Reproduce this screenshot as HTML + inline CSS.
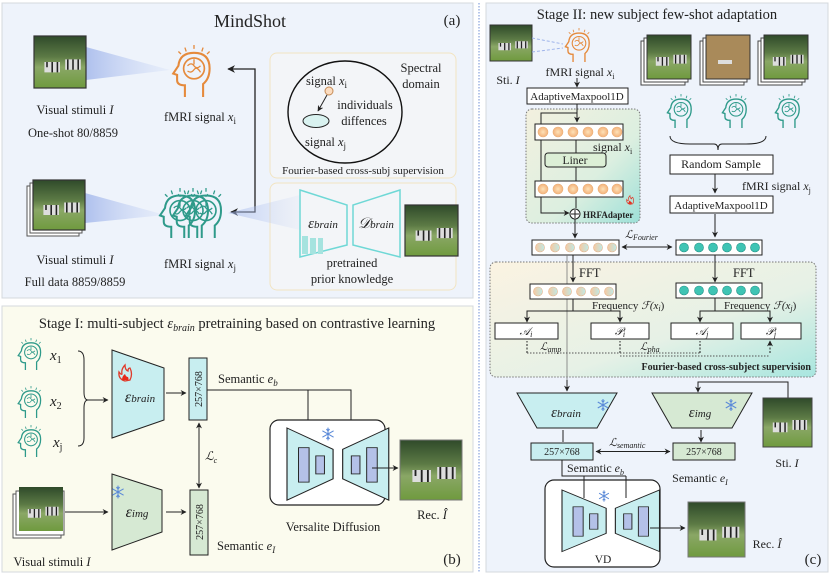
<!DOCTYPE html>
<html><head><meta charset="utf-8"><style>
html,body{margin:0;padding:0;background:#fff}
svg{display:block}
text{font-family:"Liberation Serif",serif;fill:#222}
.it{font-style:italic}
</style></head><body>
<svg width="830" height="574" viewBox="0 0 830 574" xmlns="http://www.w3.org/2000/svg">
<defs>
<linearGradient id="beam" x1="0" x2="1"><stop offset="0" stop-color="#9fb4ea" stop-opacity=".8"/><stop offset="1" stop-color="#c9d6f5" stop-opacity=".2"/></linearGradient>
<linearGradient id="hrf" x1="0" y1="0" x2="1" y2="1"><stop offset="0" stop-color="#f3f0df"/><stop offset=".6" stop-color="#dcefe0"/><stop offset="1" stop-color="#9de0d8"/></linearGradient>
<linearGradient id="four" x1="0" y1="0" x2="1" y2="1"><stop offset="0" stop-color="#fbf3e2"/><stop offset=".6" stop-color="#e6f1e6"/><stop offset="1" stop-color="#a8e6df"/></linearGradient>
<radialGradient id="od"><stop offset="0" stop-color="#fde2b8"/><stop offset="1" stop-color="#f4b27a"/></radialGradient>
<linearGradient id="md" x1="0" x2="1"><stop offset="0" stop-color="#f7c9a0"/><stop offset="1" stop-color="#bfe9e6"/></linearGradient>
<linearGradient id="img" x1="0" y1="0" x2="0" y2="1"><stop offset="0" stop-color="#2f4a2a"/><stop offset=".4" stop-color="#5c7a45"/><stop offset=".6" stop-color="#8aa766"/><stop offset="1" stop-color="#6f9a3e"/></linearGradient>
<marker id="ar" viewBox="0 0 10 10" refX="9" refY="5" markerWidth="6" markerHeight="6" orient="auto-start-reverse"><path d="M0 0L10 5L0 10L3 5z" fill="#222"/></marker>
<g id="head"><path d="M13 40V31Q7 31 7 27V23L4 22L8 16Q9 6 20 6Q32 6 32 18Q32 26 27 30V40" fill="none" stroke-width="1.6"/><circle cx="20" cy="18" r="8" fill="none" stroke-width="1.3"/><path d="M15 16q3-3 5 0t5 0M15 20q3 2 5-1t5 2M20 11v4" fill="none" stroke-width="1"/><path d="M20 0v3M13 2l1 3M27 2l-1 3M8 5l2 2M32 5l-2 2" fill="none" stroke-width="1"/></g>
<g id="zeb"><rect width="10" height="10" fill="url(#img)"/><path d="M2 5h3v2h-3zM6 4.5h3v2h-3z" fill="#ddd"/><path d="M2.5 5v1M3.5 5v2M4.5 5v2M6.5 4.5v2M7.5 4.5v2M8.5 4.5v2" stroke="#222" stroke-width=".3"/></g>
<g id="snow" stroke="#5b8ad8" stroke-width="1.4" fill="none"><path d="M0 -8V8M-7 -4L7 4M-7 4L7 -4"/><path d="M-2 -6L0 -4L2 -6M-2 6L0 4L2 6"/></g>
<g id="fire"><path d="M0 8Q-7 6 -6 -1Q-4 2 -3 1Q-4 -4 0 -8Q0 -3 3 -2Q3 -5 5 -5Q8 1 5 7Z" fill="none" stroke="#e03a2a" stroke-width="1.3"/><path d="M-3 7Q-3 3 0 1Q1 4 3 4Q4 6 3 7Z" fill="#e82a1a"/></g>
<g id="hg"><path d="M0 0L48 26V62L0 88Z M58 26L106 0V88L58 62Z" fill="#c8eef0" stroke="#222" stroke-width="1.2"/><rect x="12" y="24" width="11" height="42" fill="#b4c1e8" stroke="#222"/><rect x="30" y="34" width="9" height="22" fill="#b4c1e8" stroke="#222"/><rect x="67" y="34" width="9" height="22" fill="#b4c1e8" stroke="#222"/><rect x="83" y="24" width="11" height="42" fill="#b4c1e8" stroke="#222"/></g>
</defs>

<!-- Panel a -->
<rect x="2" y="3" width="471" height="295" fill="#eef3fb" stroke="#d4d8de"/>
<text x="250" y="27" font-size="18" text-anchor="middle">MindShot</text>
<text x="452" y="25" font-size="15" text-anchor="middle">(a)</text>
<polygon points="86,47 170,70 86,80" fill="url(#beam)"/>
<use href="#zeb" transform="translate(34,36) scale(5.2)"/>
<rect x="34" y="36" width="52" height="52" fill="none" stroke="#333" stroke-width="1.2"/>
<use href="#head" stroke="#e58a3c" transform="translate(168,45) scale(1.3)"/>
<text x="75" y="114" font-size="12.5" text-anchor="middle">Visual stimuli <tspan class="it">I</tspan></text>
<text x="73" y="137" font-size="12.5" text-anchor="middle">One-shot 80/8859</text>
<text x="200" y="121" font-size="12.5" text-anchor="middle">fMRI signal <tspan class="it">x</tspan><tspan font-size="9" dy="3">i</tspan></text>
<polygon points="85,193 165,215 85,223" fill="url(#beam)"/>
<rect x="27" y="186" width="52" height="50" fill="#fff" stroke="#555"/>
<rect x="30" y="183" width="52" height="50" fill="#fff" stroke="#555"/>
<use href="#zeb" transform="translate(33,180) scale(5.2,5)"/>
<rect x="33" y="180" width="52" height="50" fill="none" stroke="#333" stroke-width="1.2"/>
<g stroke="#2e9a8a"><use href="#head" transform="translate(155,188) scale(1.25)"/><use href="#head" transform="translate(168,188) scale(1.25)"/><use href="#head" transform="translate(181,188) scale(1.25)"/></g>
<text x="75" y="264" font-size="12.5" text-anchor="middle">Visual stimuli <tspan class="it">I</tspan></text>
<text x="75" y="286" font-size="12.5" text-anchor="middle">Full data 8859/8859</text>
<text x="200" y="268" font-size="12.5" text-anchor="middle">fMRI signal <tspan class="it">x</tspan><tspan font-size="9" dy="3">j</tspan></text>
<path d="M231 212H255V69H228" fill="none" stroke="#222" stroke-width="1.3" marker-start="url(#ar)" marker-end="url(#ar)"/>
<rect x="270" y="53" width="186" height="125" rx="7" fill="#f3f5f8" stroke="#f2e4c2"/>
<ellipse cx="345" cy="112" rx="57" ry="51" fill="none" stroke="#111" stroke-width="1.4"/>
<text x="421" y="72" font-size="12.5" text-anchor="middle">Spectral</text>
<text x="421" y="88" font-size="12.5" text-anchor="middle">domain</text>
<text x="306" y="85" font-size="12.5">signal <tspan class="it">x</tspan><tspan font-size="9" dy="3">i</tspan></text>
<circle cx="329" cy="91" r="4" fill="#fbdcc0" stroke="#c58a55"/>
<path d="M327 95L318 111" stroke="#222" marker-end="url(#ar)"/>
<ellipse cx="316" cy="121" rx="13" ry="6.5" fill="#d9f2f0" stroke="#222"/>
<text x="365" y="109" font-size="12.5" text-anchor="middle">individuals</text>
<text x="364" y="125" font-size="12.5" text-anchor="middle">diffences</text>
<text x="305" y="146" font-size="12.5">signal <tspan class="it">x</tspan><tspan font-size="9" dy="3">j</tspan></text>
<text x="363" y="174" font-size="11" text-anchor="middle">Fourier-based cross-subj supervision</text>
<rect x="270" y="183" width="186" height="107" rx="7" fill="#f3f5f8" stroke="#f2e4c2"/>
<polygon points="228,213 300,195 300,230" fill="url(#beam)" opacity=".7"/>
<polygon points="300,190 347,205 347,245 300,257" fill="#f3f5f8" stroke="#6fd8d6" stroke-width="1.5"/>
<polygon points="400,190 353,205 353,245 400,257" fill="#f3f5f8" stroke="#6fd8d6" stroke-width="1.5"/>
<g fill="#a5e3df"><rect x="302" y="236" width="6" height="18"/><rect x="310" y="238" width="6" height="16"/><rect x="318" y="238" width="5" height="16"/></g>
<text x="323" y="228" font-size="15" text-anchor="middle" class="it">ε<tspan font-size="11">brain</tspan></text>
<text x="376" y="228" font-size="15" text-anchor="middle" class="it">𝒟<tspan font-size="11">brain</tspan></text>
<use href="#zeb" transform="translate(405,205) scale(5.3,5.1)"/>
<rect x="405" y="205" width="53" height="51" fill="none" stroke="#333" stroke-width="1.2"/>
<text x="352" y="267" font-size="12.5" text-anchor="middle">pretrained</text>
<text x="352" y="283" font-size="12.5" text-anchor="middle">prior knowledge</text>

<line x1="479" y1="3" x2="479" y2="572" stroke="#6f8fd6" stroke-dasharray="1.5 1.5"/>

<!-- Panel b -->
<rect x="2" y="306" width="471" height="266" fill="#fbfbee" stroke="#d4d8de"/>
<text x="237" y="328" font-size="14.5" text-anchor="middle">Stage I: multi-subject <tspan class="it">ε</tspan><tspan class="it" font-size="10" dy="3">brain</tspan><tspan dy="-3"> pretraining based on contrastive learning</tspan></text>
<g stroke="#2e9a8a"><use href="#head" transform="translate(15,338) scale(.8)"/><use href="#head" transform="translate(15,386) scale(.8)"/><use href="#head" transform="translate(15,425) scale(.8)"/></g>
<text x="50" y="360" font-size="15" class="it">x<tspan font-size="10" dy="3" font-style="normal">1</tspan></text>
<text x="50" y="406" font-size="15" class="it">x<tspan font-size="10" dy="3" font-style="normal">2</tspan></text>
<text x="53" y="447" font-size="15" class="it">x<tspan font-size="10" dy="3" font-style="normal">j</tspan></text>
<path d="M78 351Q84 351 84 360V392Q84 400 88 400Q84 400 84 408V438Q84 446 78 446" fill="none" stroke="#222"/>
<path d="M88 400H108" stroke="#222" marker-end="url(#ar)"/>
<polygon points="112,350 164,368 164,420 112,438" fill="#c8eef0" stroke="#222"/>
<use href="#fire" transform="translate(125,373)"/>
<text x="140" y="402" font-size="16" text-anchor="middle" class="it">ε<tspan font-size="11">brain</tspan></text>
<path d="M166 393H186" stroke="#222" marker-end="url(#ar)"/>
<rect x="189" y="358" width="18" height="62" fill="#c8eef0" stroke="#222"/>
<text transform="translate(202,389) rotate(-90)" font-size="10" text-anchor="middle">257×768</text>
<text x="218" y="383" font-size="12.5">Semantic <tspan class="it">e</tspan><tspan class="it" font-size="9" dy="3">b</tspan></text>
<path d="M207 390H351V438" fill="none" stroke="#222" marker-end="url(#ar)"/>
<path d="M308 390V438" stroke="#222" marker-end="url(#ar)"/>
<path d="M199 423V488" stroke="#222" marker-start="url(#ar)" marker-end="url(#ar)"/>
<text x="205" y="460" font-size="12" class="it">ℒ<tspan font-size="8" dy="3">c</tspan></text>
<rect x="270" y="420" width="115" height="85" rx="9" fill="#fff" stroke="#222" stroke-width="1.2"/>
<use href="#hg" transform="translate(287,428) scale(.96,.82)"/>
<use href="#snow" transform="translate(328,434) scale(.8)"/>
<path d="M372 468H398" stroke="#222" marker-end="url(#ar)"/>
<use href="#zeb" transform="translate(400,440) scale(6.2,6)"/>
<rect x="400" y="440" width="62" height="60" fill="none" stroke="#777"/>
<text x="432" y="519" font-size="12.5" text-anchor="middle">Rec. <tspan class="it">Î</tspan></text>
<text x="333" y="531" font-size="12.5" text-anchor="middle">Versalite Diffusion</text>
<rect x="13" y="494" width="48" height="44" fill="#fff" stroke="#555"/>
<rect x="16" y="491" width="48" height="44" fill="#fff" stroke="#555"/>
<use href="#zeb" transform="translate(19,487) scale(4.4)"/>
<path d="M65 512H108" stroke="#222" marker-end="url(#ar)"/>
<polygon points="112,474 162,490 162,532 112,550" fill="#d6e9d3" stroke="#222"/>
<use href="#snow" transform="translate(118,492) scale(.8)"/>
<text x="137" y="517" font-size="16" text-anchor="middle" class="it">ε<tspan font-size="11">img</tspan></text>
<path d="M166 512H186" stroke="#222" marker-end="url(#ar)"/>
<rect x="190" y="490" width="18" height="65" fill="#d6e9d3" stroke="#222"/>
<text transform="translate(203,522) rotate(-90)" font-size="10" text-anchor="middle">257×768</text>
<text x="217" y="550" font-size="12.5">Semantic <tspan class="it">e</tspan><tspan class="it" font-size="9" dy="3">I</tspan></text>
<text x="52" y="566" font-size="12.5" text-anchor="middle">Visual stimuli <tspan class="it">I</tspan></text>
<text x="452" y="564" font-size="15" text-anchor="middle">(b)</text>

<!-- Panel c -->
<rect x="486" y="3" width="342" height="569" fill="#eef3fb" stroke="#d4d8de"/>
<text x="657" y="19" font-size="14.5" text-anchor="middle">Stage II: new subject few-shot adaptation</text>
<use href="#zeb" transform="translate(490,25) scale(4.2,3.6)"/>
<rect x="490" y="25" width="42" height="36" fill="none" stroke="#333"/>
<path d="M532 38L563 44M532 52L563 48" stroke="#9fb4ea" stroke-dasharray="3 2"/>
<use href="#head" stroke="#e58a3c" transform="translate(562,28) scale(.85)"/>
<text x="508" y="84" font-size="12" text-anchor="middle">Sti. <tspan class="it">I</tspan></text>
<text x="580" y="76" font-size="12" text-anchor="middle">fMRI signal <tspan class="it">x</tspan><tspan font-size="8" dy="3">i</tspan></text>
<path d="M577 78V87" stroke="#222" marker-end="url(#ar)"/>
<rect x="527" y="88" width="101" height="16" fill="#fff" stroke="#222"/>
<text x="577" y="100" font-size="11" text-anchor="middle">AdaptiveMaxpool1D</text>
<rect x="526" y="109" width="114" height="114" rx="6" fill="url(#hrf)" stroke="#777" stroke-dasharray="1.5 1.5"/>
<path d="M577 104V122" stroke="#222" marker-end="url(#ar)"/>
<path d="M577 113H541V213H569" fill="none" stroke="#222" marker-end="url(#ar)"/>
<rect x="535" y="124" width="88" height="16" fill="#fff" stroke="#222"/>
<g fill="url(#od)" stroke="#eab07a" stroke-width=".6"><circle cx="543" cy="132" r="5"/><circle cx="558" cy="132" r="5"/><circle cx="573" cy="132" r="5"/><circle cx="588" cy="132" r="5"/><circle cx="603" cy="132" r="5"/><circle cx="617" cy="132" r="5"/></g>
<text x="593" y="151" font-size="12">signal <tspan class="it">x</tspan><tspan font-size="8" dy="3">i</tspan></text>
<path d="M576 140V153M576 167V181M576 197V208" stroke="#222"/>
<rect x="545" y="153" width="61" height="14" rx="3" fill="#dcefd6" stroke="#222"/>
<text x="575" y="164" font-size="11.5" text-anchor="middle">Liner</text>
<rect x="535" y="181" width="88" height="16" fill="#fff" stroke="#222"/>
<g fill="url(#od)" stroke="#eab07a" stroke-width=".6"><circle cx="543" cy="189" r="5"/><circle cx="558" cy="189" r="5"/><circle cx="573" cy="189" r="5"/><circle cx="588" cy="189" r="5"/><circle cx="603" cy="189" r="5"/><circle cx="617" cy="189" r="5"/></g>
<use href="#fire" transform="translate(630,200) scale(.55)"/>
<circle cx="575" cy="214" r="5" fill="#fff" stroke="#222"/>
<path d="M571 214h8M575 210v8" stroke="#222"/>
<text x="583" y="218" font-size="9" font-weight="bold">HRFAdapter</text>
<path d="M575 219V238" stroke="#222" marker-end="url(#ar)"/>
<rect x="532" y="240" width="87" height="15" fill="#fff" stroke="#222"/>
<g fill="url(#md)" stroke="#e5b088" stroke-width=".6"><circle cx="540" cy="247.5" r="4.5"/><circle cx="555" cy="247.5" r="4.5"/><circle cx="570" cy="247.5" r="4.5"/><circle cx="584" cy="247.5" r="4.5"/><circle cx="598" cy="247.5" r="4.5"/><circle cx="612" cy="247.5" r="4.5"/></g>
<text x="625" y="238" font-size="11" class="it">ℒ<tspan font-size="8" dy="2">Fourier</tspan></text>
<path d="M622 247H672" stroke="#222" marker-start="url(#ar)" marker-end="url(#ar)"/>
<rect x="676" y="240" width="86" height="15" fill="#fff" stroke="#222"/>
<g fill="#3fc4b4" stroke="#1f8f84" stroke-width=".6"><circle cx="684" cy="247.5" r="4.5"/><circle cx="699" cy="247.5" r="4.5"/><circle cx="713" cy="247.5" r="4.5"/><circle cx="727" cy="247.5" r="4.5"/><circle cx="741" cy="247.5" r="4.5"/><circle cx="755" cy="247.5" r="4.5"/></g>
<g>
<rect x="641" y="41" width="44" height="44" fill="#fff" stroke="#444"/><rect x="644" y="38" width="44" height="44" fill="#fff" stroke="#444"/><use href="#zeb" transform="translate(647,35) scale(4.4)"/><rect x="647" y="35" width="44" height="44" fill="none" stroke="#333"/>
<rect x="700" y="41" width="44" height="44" fill="#fff" stroke="#444"/><rect x="703" y="38" width="44" height="44" fill="#fff" stroke="#444"/><rect x="706" y="35" width="44" height="44" fill="#a98a5a" stroke="#333"/><path d="M718 60h14v4h-14z" fill="#ddd"/>
<rect x="758" y="41" width="44" height="44" fill="#fff" stroke="#444"/><rect x="761" y="38" width="44" height="44" fill="#fff" stroke="#444"/><use href="#zeb" transform="translate(764,35) scale(4.4)"/><rect x="764" y="35" width="44" height="44" fill="none" stroke="#333"/>
</g>
<g stroke="#2e9a8a"><use href="#head" transform="translate(664,94) scale(.85)"/><use href="#head" transform="translate(719,94) scale(.85)"/><use href="#head" transform="translate(772,94) scale(.85)"/></g>
<path d="M670 136Q670 144 690 144H714Q718 144 718 150Q718 144 722 144H746Q766 144 766 136" fill="none" stroke="#222"/>
<rect x="670" y="155" width="103" height="19" fill="#fff" stroke="#222"/>
<text x="721" y="168" font-size="12" text-anchor="middle">Random Sample</text>
<path d="M715 174V193" stroke="#222" marker-end="url(#ar)"/>
<text x="742" y="190" font-size="12">fMRI signal <tspan class="it">x</tspan><tspan font-size="8" dy="3">j</tspan></text>
<rect x="670" y="196" width="103" height="17" fill="#fff" stroke="#222"/>
<text x="721" y="209" font-size="11" text-anchor="middle">AdaptiveMaxpool1D</text>
<path d="M715 214V237" stroke="#222" marker-end="url(#ar)"/>
<rect x="490" y="262" width="326" height="115" rx="6" fill="url(#four)" stroke="#777" stroke-dasharray="1.5 1.5"/>
<path d="M573 255V282" stroke="#222" marker-end="url(#ar)"/>
<path d="M567 255V390" stroke="#777" stroke-width=".8"/>
<path d="M715 255V282" stroke="#222" marker-end="url(#ar)"/>
<text x="579" y="277" font-size="12.5">FFT</text>
<text x="733" y="277" font-size="12.5">FFT</text>
<rect x="530" y="284" width="86" height="15" fill="#fff" stroke="#222"/>
<g fill="url(#md)" stroke="#e5b088" stroke-width=".6"><circle cx="538" cy="291.5" r="4.5"/><circle cx="553" cy="291.5" r="4.5"/><circle cx="567" cy="291.5" r="4.5"/><circle cx="581" cy="291.5" r="4.5"/><circle cx="595" cy="291.5" r="4.5"/><circle cx="609" cy="291.5" r="4.5"/></g>
<rect x="676" y="283" width="86" height="15" fill="#fff" stroke="#222"/>
<g fill="#3fc4b4" stroke="#1f8f84" stroke-width=".6"><circle cx="684" cy="290.5" r="4.5"/><circle cx="699" cy="290.5" r="4.5"/><circle cx="713" cy="290.5" r="4.5"/><circle cx="727" cy="290.5" r="4.5"/><circle cx="741" cy="290.5" r="4.5"/><circle cx="755" cy="290.5" r="4.5"/></g>
<path d="M573 299V311H527V322M573 311H620V322M715 298V311H700V322M715 311H770V322" fill="none" stroke="#222"/>
<g stroke="#222"><path d="M527 315V322" marker-end="url(#ar)"/><path d="M620 315V322" marker-end="url(#ar)"/><path d="M700 315V322" marker-end="url(#ar)"/><path d="M770 315V322" marker-end="url(#ar)"/></g>
<text x="592" y="309" font-size="11">Frequency <tspan class="it">ℱ(x</tspan><tspan class="it" font-size="8" dy="2">i</tspan><tspan dy="-2">)</tspan></text>
<text x="724" y="309" font-size="11">Frequency <tspan class="it">ℱ(x</tspan><tspan class="it" font-size="8" dy="2">j</tspan><tspan dy="-2">)</tspan></text>
<g fill="#fff" stroke="#222"><rect x="495" y="323" width="63" height="16"/><rect x="591" y="323" width="58" height="16"/><rect x="671" y="323" width="62" height="16"/><rect x="741" y="323" width="60" height="16"/></g>
<g font-size="11" class="it" text-anchor="middle"><text x="526" y="335">𝒜<tspan font-size="8" dy="2">i</tspan></text><text x="620" y="335">𝒫<tspan font-size="8" dy="2">i</tspan></text><text x="702" y="335">𝒜<tspan font-size="8" dy="2">j</tspan></text><text x="771" y="335">𝒫<tspan font-size="8" dy="2">j</tspan></text></g>
<path d="M527 353V341M620 353V341M700 353V341M770 353V341" stroke="#222" stroke-dasharray="2 1.5" marker-end="url(#ar)"/>
<path d="M527 353H700M620 356H770" stroke="#555" stroke-dasharray="1.5 1.5" fill="none"/>
<text x="540" y="350" font-size="10.5" class="it">ℒ<tspan font-size="8" dy="2">amp</tspan></text>
<text x="640" y="350" font-size="10.5" class="it">ℒ<tspan font-size="8" dy="2">pha</tspan></text>
<text x="811" y="370" font-size="10" font-weight="bold" text-anchor="end">Fourier-based cross-subject supervision</text>
<path d="M567 380V391" stroke="#222" marker-end="url(#ar)"/>
<polygon points="517,393 617,393 597,428 537,428" fill="#c8eef0" stroke="#222"/>
<text x="566" y="417" font-size="15" text-anchor="middle" class="it">ε<tspan font-size="11">brain</tspan></text>
<use href="#snow" transform="translate(603,405) scale(.75)"/>
<path d="M788 398V382H698V392" fill="none" stroke="#222" marker-end="url(#ar)"/>
<polygon points="652,393 752,393 732,428 672,428" fill="#d6e9d3" stroke="#222"/>
<text x="700" y="417" font-size="15" text-anchor="middle" class="it">ε<tspan font-size="11">img</tspan></text>
<use href="#snow" transform="translate(731,405) scale(.75)"/>
<use href="#zeb" transform="translate(763,398) scale(4.9)"/>
<rect x="763" y="398" width="49" height="49" fill="none" stroke="#444"/>
<text x="787" y="467" font-size="12" text-anchor="middle">Sti. <tspan class="it">I</tspan></text>
<path d="M563 430V442M701 430V442" stroke="#222" marker-end="url(#ar)"/>
<rect x="531" y="443" width="62" height="17" fill="#c8eef0" stroke="#222"/>
<text x="562" y="455" font-size="10" text-anchor="middle">257×768</text>
<rect x="673" y="443" width="62" height="17" fill="#d6e9d3" stroke="#222"/>
<text x="704" y="455" font-size="10" text-anchor="middle">257×768</text>
<path d="M596 451.5H670" stroke="#222" marker-start="url(#ar)" marker-end="url(#ar)"/>
<text x="609" y="446" font-size="11" class="it">ℒ<tspan font-size="8" dy="2">semantic</tspan></text>
<text x="567" y="472" font-size="12">Semantic <tspan class="it">e</tspan><tspan class="it" font-size="8" dy="3">b</tspan></text>
<text x="700" y="482" font-size="12" text-anchor="middle">Semantic <tspan class="it">e</tspan><tspan class="it" font-size="8" dy="3">I</tspan></text>
<path d="M562 460V476H626" fill="none" stroke="#222"/>
<g stroke="#222"><path d="M584 476V498" marker-end="url(#ar)"/><path d="M626 476V498" marker-end="url(#ar)"/></g>
<rect x="545" y="480" width="115" height="87" rx="9" fill="#fff" stroke="#222" stroke-width="1.2"/>
<path d="M584 476V498M626 476V498" stroke="#222"/>
<use href="#hg" transform="translate(562,490) scale(.92,.7)"/>
<use href="#snow" transform="translate(604,496) scale(.7)"/>
<text x="603" y="563" font-size="11.5" text-anchor="middle">VD</text>
<path d="M650 528H685" stroke="#222" marker-end="url(#ar)"/>
<use href="#zeb" transform="translate(688,502) scale(5.7,5.5)"/>
<rect x="688" y="502" width="57" height="55" fill="none" stroke="#777"/>
<text x="767" y="548" font-size="12" text-anchor="middle">Rec. <tspan class="it">Î</tspan></text>
<text x="813" y="564" font-size="15" text-anchor="middle">(c)</text>
</svg>
</body></html>
